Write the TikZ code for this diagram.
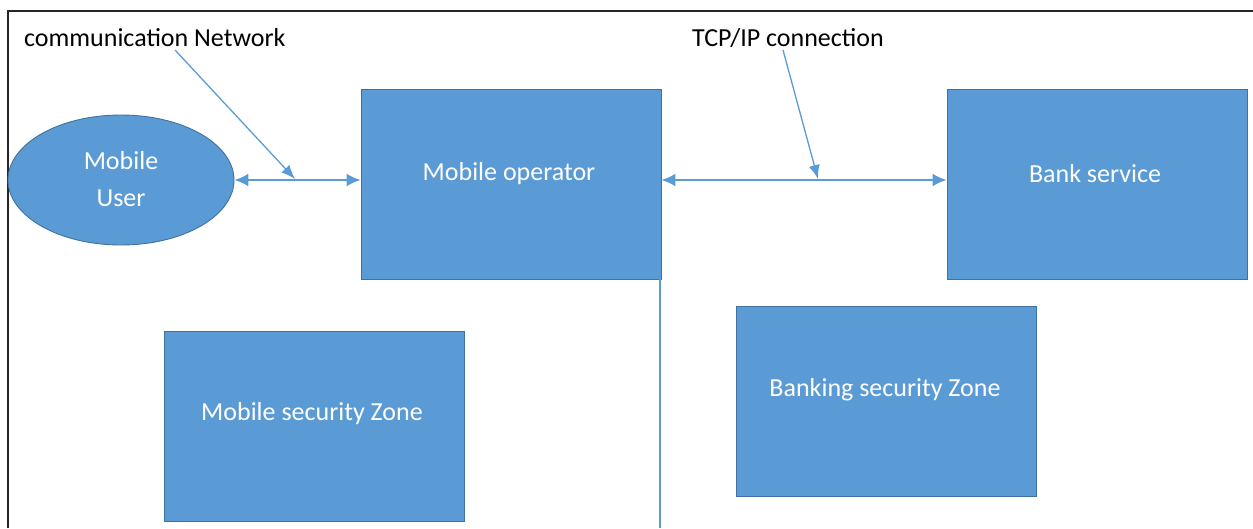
\documentclass[tikz,border=0pt]{standalone}
\usepackage{fontspec}
\setmainfont{Carlito}
\usetikzlibrary{arrows.meta,shapes.geometric}
\definecolor{fillblue}{HTML}{5B9BD5}
\definecolor{edgeblue}{HTML}{41719C}
\tikzset{
  boxshape/.style={draw=edgeblue, line width=0.9pt, fill=fillblue, minimum width=300pt, minimum height=190pt, inner sep=0pt},
  boxtext/.style={text=white, font=\fontsize{26}{31}\selectfont, inner sep=0pt},
  usershape/.style={ellipse, draw=edgeblue, line width=0.9pt, fill=fillblue, minimum width=226pt, minimum height=130pt, inner sep=0pt},
  labeltext/.style={text=black, font=\fontsize{26}{31}\selectfont, inner sep=0pt, anchor=west},
  conn/.style={draw=fillblue, line width=1.8pt, {Latex[length=14pt,width=13pt]}-{Latex[length=14pt,width=13pt]}},
  callout/.style={draw=fillblue, line width=1.3pt, -{Latex[length=14pt,width=11pt]}},
  frameline/.style={draw=black!85, line width=1.8pt}
}
\begin{document}
\begin{tikzpicture}[x=1pt,y=-1pt]
\useasboundingbox (0,0) rectangle (1253,528);
\draw[frameline] (8,528) -- (8,11) -- (1253,11);
% nodes
\node[usershape] (user) at (121,180) {};
\node[boxtext, align=center] (usert) at (121,179) {Mobile\\[6pt]User};
\node[boxshape] (mo) at (511,184) {};
\node[boxtext] (mot) at (509,174) {Mobile operator};
\node[boxshape] (bank) at (1097,184) {};
\node[boxtext] (bankt) at (1095,174) {Bank service};
\node[boxshape] (msz) at (314,426) {};
\node[boxtext] (mszt) at (312,414) {Mobile security Zone};
\node[boxshape] (bsz) at (886,401) {};
\node[boxtext] (bszt) at (885,390) {Banking security Zone};
% labels
\node[labeltext] (cn) at (24,38) {communication Network};
\node[labeltext] (tcp) at (692,38) {TCP/IP connection};
% connectors
\draw[conn] (user.east) -- (mo.west |- user.east);
\draw[conn] (mo.east |- 0,180) -- (bank.west |- 0,180);
\coordinate (mobot) at (mo.south east);
\coordinate (vend) at (660,528);
\draw[draw=fillblue, line width=1.4pt] (vend |- mobot) -- (vend);
% callouts
\coordinate (c1s) at (175,50);
\coordinate (c1e) at (295,179);
\coordinate (c2s) at (783,50);
\coordinate (c2e) at (818,179);
\draw[callout] (c1s) -- (c1e);
\draw[callout] (c2s) -- (c2e);
\end{tikzpicture}
\end{document}
